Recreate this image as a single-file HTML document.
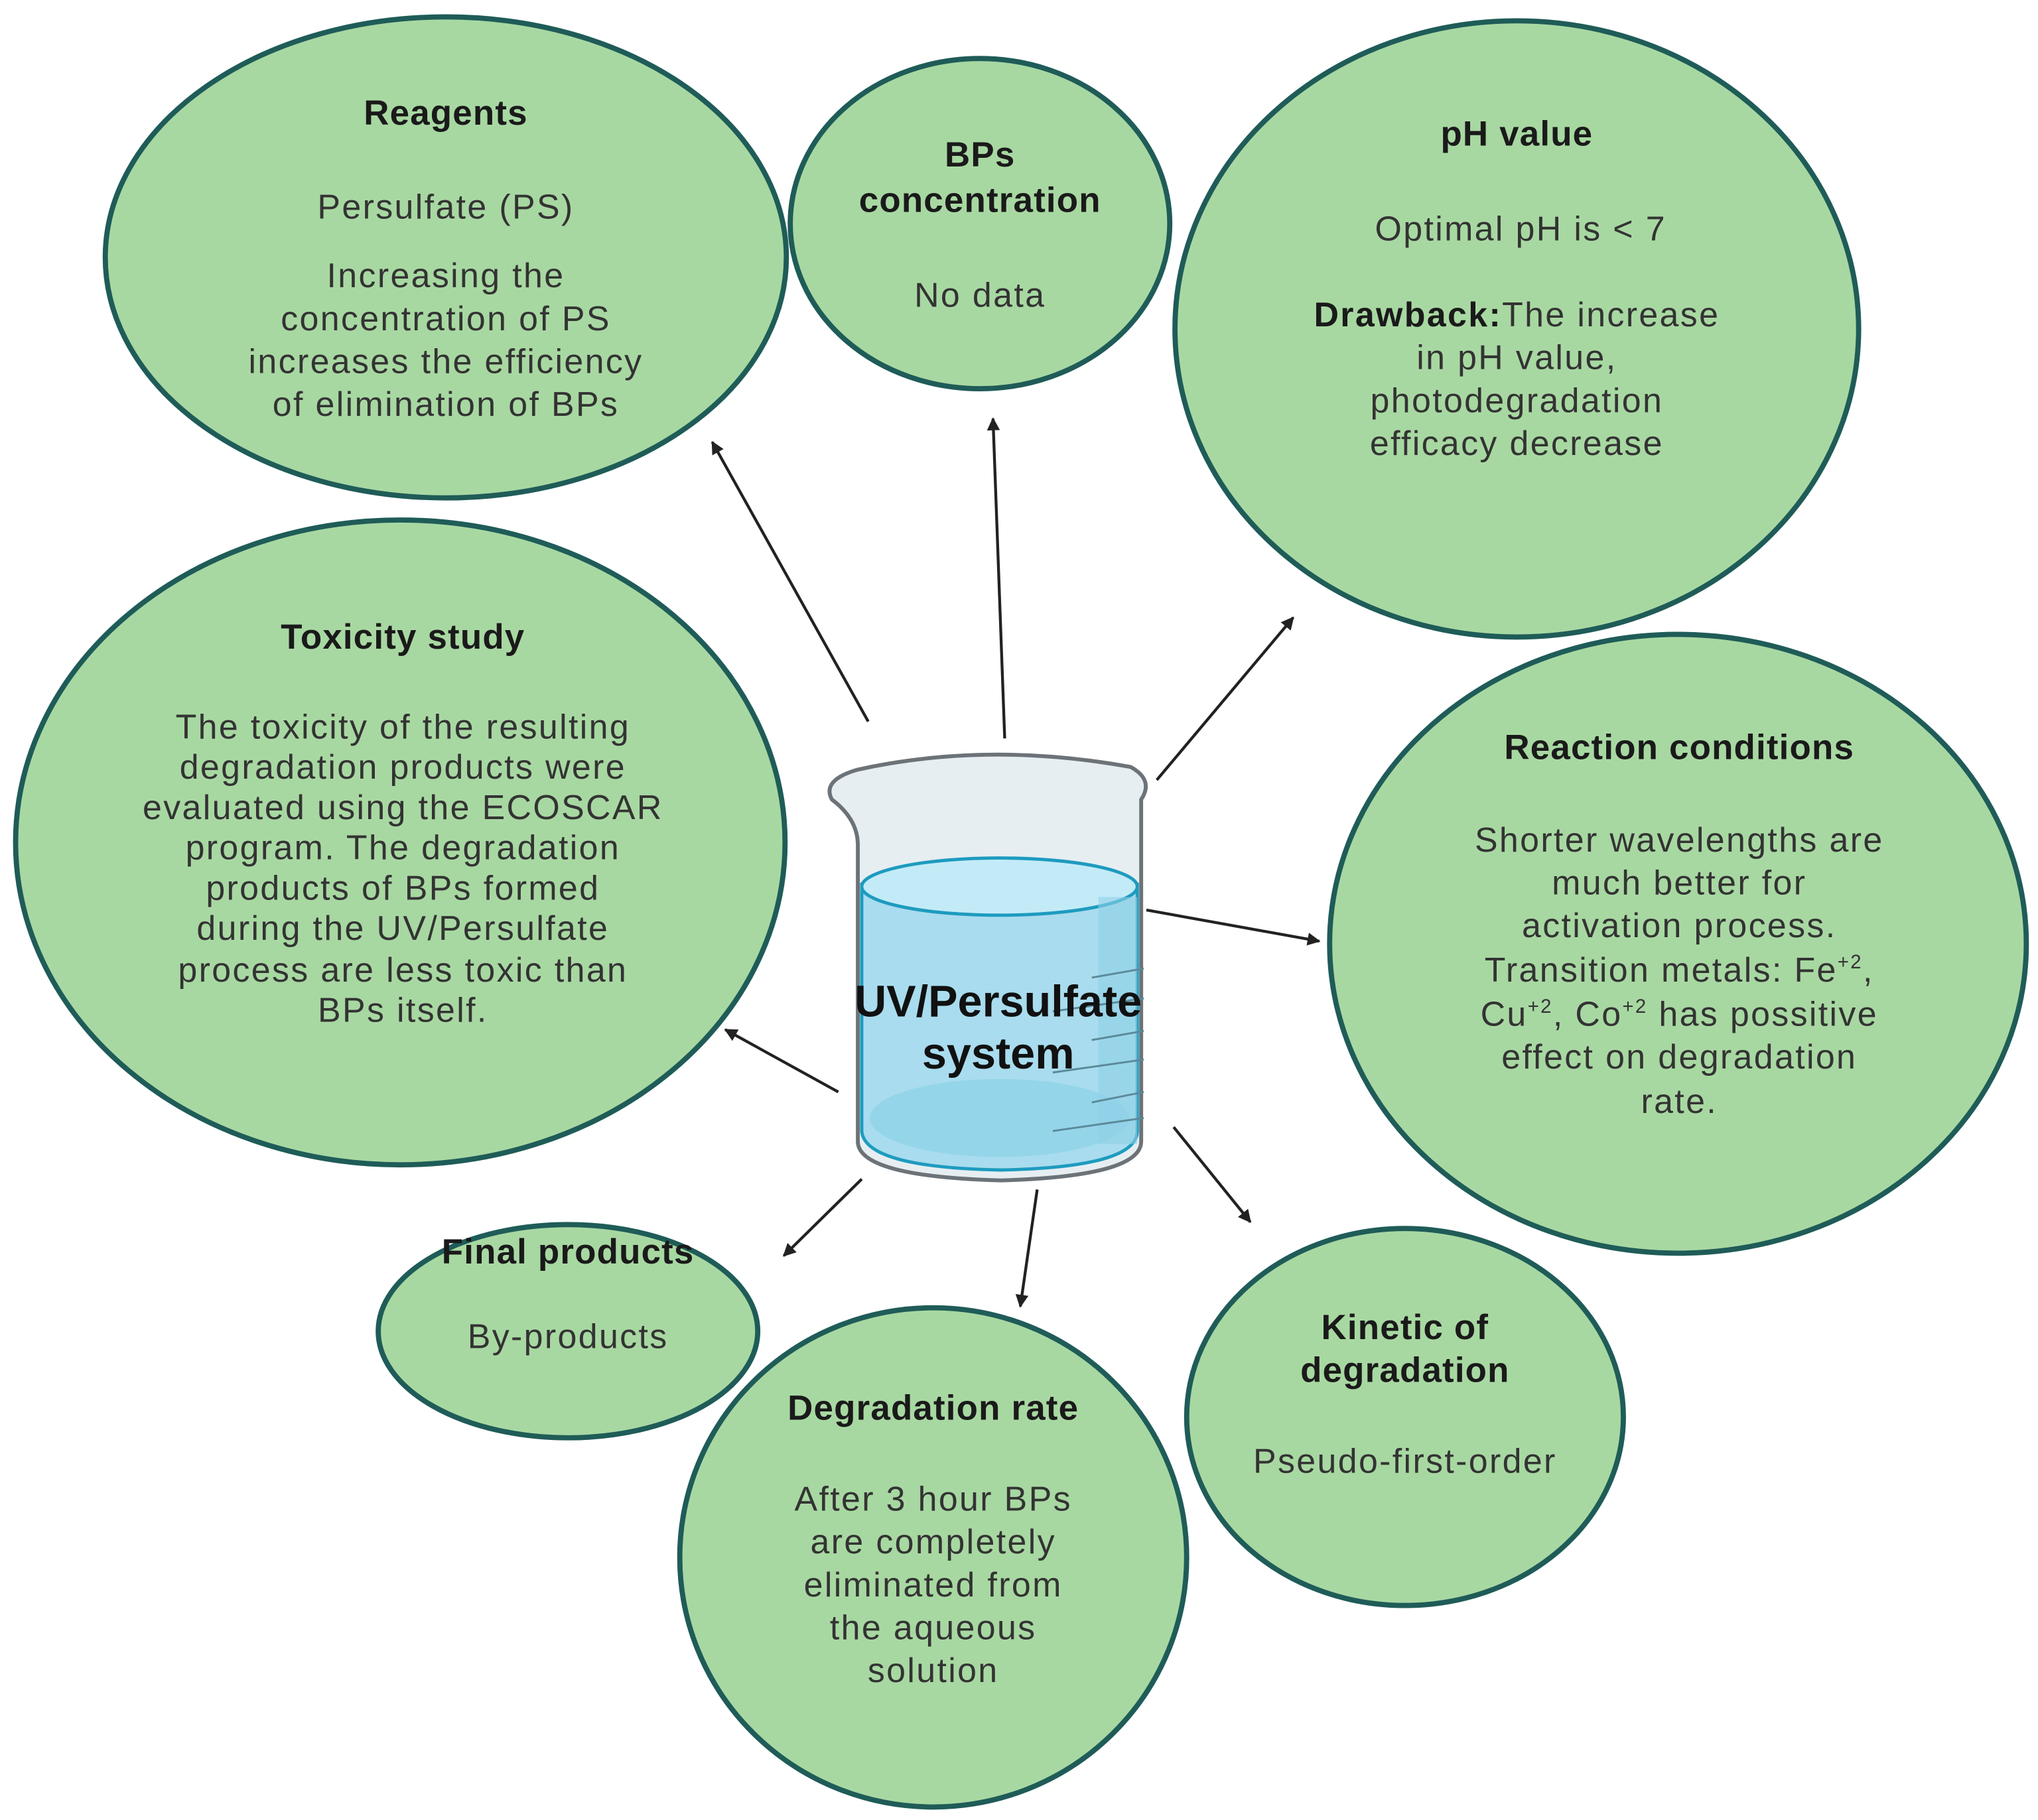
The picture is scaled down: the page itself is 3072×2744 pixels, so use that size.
<!DOCTYPE html>
<html><head><meta charset="utf-8"><style>
html,body{margin:0;padding:0;background:#fff;}
svg{display:block;}
text{font-family:"Liberation Sans",sans-serif;fill:#333;text-anchor:middle;}
.t{font-weight:bold;font-size:27px;fill:#1a1a1a;letter-spacing:0.6px;}
.b{font-size:26.5px;letter-spacing:1.2px;}
</style></head><body>
<svg width="3072" height="2744" viewBox="0 0 1568 1400" preserveAspectRatio="none" xmlns="http://www.w3.org/2000/svg">
<defs><marker id="a" markerWidth="10" markerHeight="10" refX="9" refY="5" orient="auto" markerUnits="userSpaceOnUse"><path d="M0,0 L10,5 L0,10 z" fill="#222"/></marker></defs>
<g fill="#a8d8a2" stroke="#1f5c58" stroke-width="4">
<ellipse cx="343" cy="198" rx="262" ry="185"/>
<ellipse cx="754" cy="172" rx="146" ry="127"/>
<ellipse cx="1167" cy="253" rx="263" ry="237"/>
<ellipse cx="308" cy="648" rx="296" ry="248"/>
<ellipse cx="1291" cy="726" rx="268" ry="238"/>
<ellipse cx="437" cy="1024" rx="146" ry="82"/>
<ellipse cx="718" cy="1198" rx="195" ry="192"/>
<ellipse cx="1081" cy="1090" rx="168" ry="145"/>
</g>
<g stroke="#222" stroke-width="2.2" marker-end="url(#a)">
<line x1="668" y1="555" x2="548" y2="340"/>
<line x1="773" y1="568" x2="764" y2="322"/>
<line x1="890" y1="600" x2="995" y2="475"/>
<line x1="882" y1="700" x2="1015" y2="724"/>
<line x1="645" y1="840" x2="558" y2="792"/>
<line x1="663" y1="907" x2="603" y2="966"/>
<line x1="798" y1="915" x2="785" y2="1005"/>
<line x1="903" y1="867" x2="962" y2="940"/>
</g>
<path d="M640,615 Q632,600 660,592 Q760,570 870,590 Q888,600 878,615 L878,878 Q878,905 770,908 Q660,905 660,878 L660,650 Q660,630 640,615 z" fill="#e6eef2" stroke="#6c7378" stroke-width="3"/>
<path d="M663,680 Q770,650 875,680 L875,870 Q875,898 770,900 Q665,898 663,870 z" fill="#a9dcee" stroke="#1e9bbf" stroke-width="2.5"/>
<ellipse cx="769" cy="682" rx="106" ry="22" fill="#c3ebf7" stroke="#1e9bbf" stroke-width="2.5"/>
<ellipse cx="769" cy="860" rx="100" ry="30" fill="#95d5ea"/>
<rect x="845" y="690" width="30" height="190" fill="#8fd0e6" opacity="0.6"/>
<g stroke="#5b8a99" stroke-width="1.5">
<line x1="840" y1="752" x2="880" y2="745"/><line x1="810" y1="778" x2="880" y2="768"/><line x1="840" y1="800" x2="880" y2="793"/><line x1="810" y1="825" x2="880" y2="815"/><line x1="840" y1="848" x2="880" y2="840"/><line x1="810" y1="870" x2="880" y2="860"/>
</g>
<text x="768" y="782" style="font-weight:bold;font-size:34px;fill:#111">UV/Persulfate</text>
<text x="768" y="822" style="font-weight:bold;font-size:34px;fill:#111">system</text>

<text class="t" x="343" y="96">Reagents</text>
<text class="b" x="343" y="168">Persulfate (PS)</text>
<text class="b" x="343" y="221">Increasing the</text>
<text class="b" x="343" y="254">concentration of PS</text>
<text class="b" x="343" y="287">increases the efficiency</text>
<text class="b" x="343" y="320">of elimination of BPs</text>

<text class="t" x="754" y="128">BPs</text>
<text class="t" x="754" y="163">concentration</text>
<text class="b" x="754" y="236">No data</text>

<text class="t" x="1167" y="112">pH value</text>
<text class="b" x="1170" y="185">Optimal pH is &lt; 7</text>
<text class="b" x="1167" y="251"><tspan font-weight="bold" fill="#1a1a1a">Drawback:</tspan>The increase</text>
<text class="b" x="1167" y="284">in pH value,</text>
<text class="b" x="1167" y="317">photodegradation</text>
<text class="b" x="1167" y="350">efficacy decrease</text>

<text class="t" x="310" y="499">Toxicity study</text>
<text class="b" x="310" y="568">The toxicity of the resulting</text>
<text class="b" x="310" y="599">degradation products were</text>
<text class="b" x="310" y="630">evaluated using the ECOSCAR</text>
<text class="b" x="310" y="661">program. The degradation</text>
<text class="b" x="310" y="692">products of BPs formed</text>
<text class="b" x="310" y="723">during the UV/Persulfate</text>
<text class="b" x="310" y="755">process are less toxic than</text>
<text class="b" x="310" y="786">BPs itself.</text>

<text class="t" x="1292" y="584">Reaction conditions</text>
<text class="b" x="1292" y="655">Shorter wavelengths are</text>
<text class="b" x="1292" y="688">much better for</text>
<text class="b" x="1292" y="721">activation process.</text>
<text class="b" x="1292" y="755">Transition metals: Fe<tspan dy="-10" font-size="15">+2</tspan><tspan dy="10">,</tspan></text>
<text class="b" x="1292" y="789">Cu<tspan dy="-10" font-size="15">+2</tspan><tspan dy="10">, Co</tspan><tspan dy="-10" font-size="15">+2</tspan><tspan dy="10"> has possitive</tspan></text>
<text class="b" x="1292" y="822">effect on degradation</text>
<text class="b" x="1292" y="856">rate.</text>

<text class="t" x="437" y="972">Final products</text>
<text class="b" x="437" y="1037">By-products</text>

<text class="t" x="718" y="1092">Degradation rate</text>
<text class="b" x="718" y="1162">After 3 hour  BPs</text>
<text class="b" x="718" y="1195">are completely</text>
<text class="b" x="718" y="1228">eliminated from</text>
<text class="b" x="718" y="1261">the aqueous</text>
<text class="b" x="718" y="1294">solution</text>

<text class="t" x="1081" y="1030">Kinetic of</text>
<text class="t" x="1081" y="1063">degradation</text>
<text class="b" x="1081" y="1133">Pseudo-first-order</text>
</svg>
</body></html>
